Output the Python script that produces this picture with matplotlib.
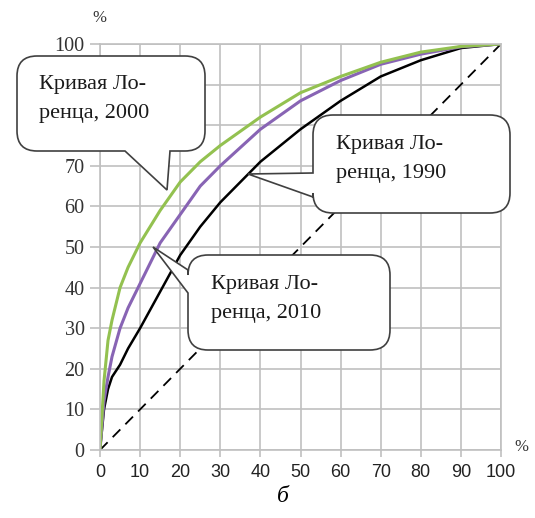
import matplotlib.pyplot as plt
from matplotlib.path import Path
from matplotlib.patches import PathPatch

# population share, % (x) and income share, % (y)
share = [0, 1, 2, 3, 5, 7, 10, 15, 20, 25, 30, 40, 50, 60, 70, 80, 90, 100]
curve_2000 = [0, 17, 27, 32, 40, 45, 51, 59, 66, 71, 75, 82, 88, 92, 95.5, 98, 99.4, 100]
curve_1990 = [0, 12, 18, 23, 30, 35, 41, 51, 58, 65, 70, 79, 86, 91, 95, 97.5, 99.3, 100]
curve_2010 = [0, 10, 15, 18, 21, 25, 30, 39, 48, 55, 61, 71, 79, 86, 92, 96, 99, 100]
ticks = list(range(0, 101, 10))
# 80 and 90 sit under the first callout in the original
ytick_labels = [str(t) if t not in (80, 90) else '' for t in ticks]

W, H = 535, 518
fig = plt.figure(figsize=(W / 100, H / 100), dpi=100)
ax = fig.add_axes([100 / W, 1 - 450 / H, 401 / W, 406 / H])

ax.plot([0, 100], [0, 100], color='black', lw=1.3, dashes=(6, 4))
ax.plot(share, curve_2010, color='black', lw=1.8)
ax.plot(share, curve_1990, color='#8864b4', lw=2.2)
ax.plot(share, curve_2000, color='#93c150', lw=2.2)

ax.set_xlim(0, 100)
ax.set_ylim(0, 100)
ax.set_xticks(ticks)
ax.set_yticks(ticks)
ax.set_yticklabels(ytick_labels)
ax.grid(True, color='#c0c0c0', lw=1.2)
ax.set_axisbelow(True)
for s in ax.spines.values():
    s.set_color('#c0c0c0')
    s.set_linewidth(1.2)
ax.tick_params(axis='both', color='#c0c0c0', width=1.2)
ax.tick_params(axis='y', length=7, pad=4)
ax.tick_params(axis='x', length=5, pad=5)
for lab in ax.get_yticklabels():
    lab.set_family(['Liberation Serif', 'DejaVu Serif'])
    lab.set_fontsize(14.5)
    lab.set_color('#333333')
for lab in ax.get_xticklabels():
    lab.set_family(['Liberation Sans Narrow', 'Liberation Sans', 'DejaVu Sans'])
    lab.set_fontsize(13)
    lab.set_color('#222222')

serif = ['Liberation Serif', 'DejaVu Serif']
fig.text(99 / W, 1 - 18 / H, '%', family=serif, fontsize=12, ha='center', va='center', color='#333333')
fig.text(521 / W, 1 - 447 / H, '%', family=serif, fontsize=12, ha='center', va='center', color='#333333')
fig.text(283 / W, 1 - 497 / H, 'б', family=serif, style='italic', fontsize=17, ha='center', va='center')


def fp(p):
    return (p[0] / W, 1 - p[1] / H)


def callout(x0, y0, x1, y1, side, a, b, tip, r=20):
    # rounded box in pixel coords, tail on 'bottom' or 'left' edge between a and b
    v = [(x0 + r, y0), (x1 - r, y0), (x1, y0), (x1, y0 + r),
         (x1, y1 - r), (x1, y1), (x1 - r, y1)]
    c = [Path.MOVETO, Path.LINETO, Path.CURVE3, Path.CURVE3,
         Path.LINETO, Path.CURVE3, Path.CURVE3]
    if side == 'bottom':
        v += [(b, y1), tip, (a, y1)]
        c += [Path.LINETO] * 3
    v += [(x0 + r, y1), (x0, y1), (x0, y1 - r)]
    c += [Path.LINETO, Path.CURVE3, Path.CURVE3]
    if side == 'left':
        v += [(x0, b), tip, (x0, a)]
        c += [Path.LINETO] * 3
    v += [(x0, y0 + r), (x0, y0), (x0 + r, y0), (x0 + r, y0)]
    c += [Path.LINETO, Path.CURVE3, Path.CURVE3, Path.CLOSEPOLY]
    path = Path([fp(p) for p in v], c)
    fig.patches.append(PathPatch(path, transform=fig.transFigure, facecolor='white',
                                 edgecolor='#404040', lw=1.2, zorder=5))


callout(17, 56, 205, 151, 'bottom', 125, 170, (167, 190))
callout(313, 115, 510, 213, 'left', 173, 197, (248, 174))
callout(188, 255, 390, 350, 'left', 270, 293, (153, 247))

labels = [('Кривая Ло-\nренца, 2000', 39, 99),
          ('Кривая Ло-\nренца, 1990', 336, 159),
          ('Кривая Ло-\nренца, 2010', 211, 299)]
for txt, px, py in labels:
    fig.text(px / W, 1 - py / H, txt, family=serif, fontsize=16, ha='left', va='center',
             linespacing=1.75, zorder=6, color='#1a1a1a')

fig.savefig('out.png', dpi=100)
